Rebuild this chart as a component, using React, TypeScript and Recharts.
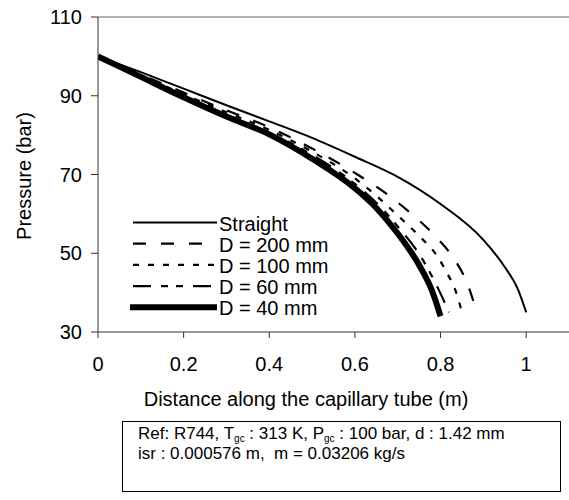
import { LineChart, Line, XAxis, YAxis, ReferenceLine } from "recharts";

const FONT = "Liberation Sans, Arial, sans-serif";

const xTicks = [0, 0.2, 0.4, 0.6, 0.8, 1];
const yTicks = [30, 50, 70, 90, 110];

// distance (m) / pressure (bar)
const straightX = [0, 0.1, 0.2, 0.3, 0.4, 0.5, 0.6, 0.7, 0.8, 0.9, 0.95, 0.98, 1.0];
const straightP = [100, 96, 91.8, 87.6, 83.5, 79.3, 74.5, 69.4, 62.5, 53.4, 46.5, 41, 35];

const d200X = [0, 0.1, 0.2, 0.3, 0.4, 0.5, 0.6, 0.68, 0.73, 0.78, 0.83, 0.86, 0.885];
const d200P = [100, 95.4, 90.8, 86.3, 82, 76.6, 70.4, 64.6, 60.2, 55.2, 48.8, 43, 35];

const d100X = [0, 0.1, 0.2, 0.3, 0.4, 0.5, 0.6, 0.65, 0.7, 0.75, 0.79, 0.815, 0.835, 0.85];
const d100P = [100, 95.2, 90.4, 85.8, 81.3, 75.8, 69, 64.6, 59.6, 54.4, 49.6, 45, 40.5, 35];

const d60X = [0, 0.1, 0.2, 0.3, 0.4, 0.5, 0.6, 0.65, 0.7, 0.75, 0.79, 0.82];
const d60P = [100, 95, 90, 85.2, 80.6, 75, 67.6, 62.8, 56.8, 49.8, 42, 35];

const d40X = [0, 0.1, 0.2, 0.3, 0.4, 0.5, 0.6, 0.65, 0.7, 0.75, 0.78, 0.8];
const d40P = [100, 94.8, 89.6, 84.7, 80.2, 74, 66.5, 61.5, 55, 47, 40.5, 34];

const zip = (xs: number[], ps: number[]) => xs.map((x, i) => ({ x, p: ps[i] }));

const seriesNames = ["Straight", "D = 200 mm", "D = 100 mm", "D = 60 mm", "D = 40 mm"];
const seriesData = [
  zip(straightX, straightP),
  zip(d200X, d200P),
  zip(d100X, d100P),
  zip(d60X, d60P),
  zip(d40X, d40P),
];
const widths = [2, 2.2, 2.2, 2.2, 6];
const dashes = ["", "13 15", "6 9", "18 10 7 8 7 10", ""];

function LegendOverlay() {
  return (
    <svg width={569} height={500} style={{ position: "absolute", left: 0, top: 0, pointerEvents: "none" }}>
      {seriesNames.map((n, i) => {
        const base = 230.5 + i * 21.2;
        return (
          <g key={n}>
            <line x1={i === 4 ? 130 : 133} x2={217} y1={base - 8} y2={base - 8}
              stroke="#000" strokeWidth={widths[i]} strokeDasharray={dashes[i] || undefined} />
            <text x={219} y={base} fontSize={20} fontFamily={FONT} fill="#000">{n}</text>
          </g>
        );
      })}
      <text x={306} y={406} fontSize={20} fontFamily={FONT} textAnchor="middle" fill="#000">
        Distance along the capillary tube (m)
      </text>
      <text x={31} y={176} fontSize={20} fontFamily={FONT} textAnchor="middle" fill="#000"
        transform="rotate(-90 31 176)">Pressure (bar)</text>
    </svg>
  );
}

const subStyle = { fontSize: 10, lineHeight: 0, verticalAlign: "-3px" };

export default function App() {
  return (
    <div style={{ position: "absolute", left: 0, top: 0, width: 569, height: 500, background: "#fff" }}>
      <LineChart width={569} height={500} margin={{ top: 17, right: 0, left: 0, bottom: 138 }}>
        <XAxis type="number" dataKey="x" domain={[0, 1.1]} ticks={xTicks} allowDataOverflow
          stroke="#333" tickSize={6} tickMargin={19}
          tick={{ fill: "#000", fontSize: 20, fontFamily: FONT }} height={30} />
        <YAxis type="number" dataKey="p" domain={[30, 110]} ticks={yTicks} allowDataOverflow
          stroke="#333" tickSize={7} tickMargin={9} width={98}
          tick={{ fill: "#000", fontSize: 20, fontFamily: FONT }} />
        <ReferenceLine y={110} stroke="#999" strokeWidth={1.5} />
        {seriesData.map((d, i) => (
          <Line key={seriesNames[i]} data={d} dataKey="p" type="monotone" stroke="#000"
            strokeWidth={widths[i]} strokeDasharray={dashes[i] || undefined}
            dot={false} activeDot={false} isAnimationActive={false} />
        ))}
      </LineChart>
      <LegendOverlay />
      <div style={{
        position: "absolute", left: 122, top: 421, width: 439, height: 71,
        border: "1.5px solid #000", fontFamily: FONT, fontSize: 17, lineHeight: "20px",
        paddingLeft: 15, paddingTop: 2, boxSizing: "border-box", color: "#000",
      }}>
        <div>Ref: R744, T<span style={subStyle}>gc</span> : 313 K, P<span style={subStyle}>gc</span> : 100 bar, d : 1.42 mm</div>
        <div>isr : 0.000576 m,&nbsp; m = 0.03206 kg/s</div>
      </div>
    </div>
  );
}
